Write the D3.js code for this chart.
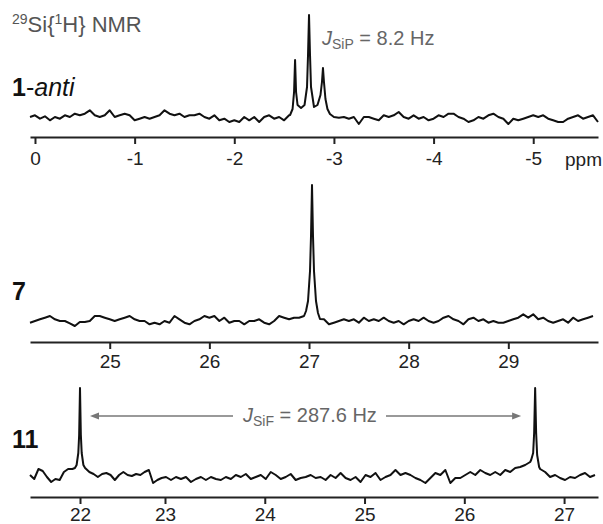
<!DOCTYPE html>
<html>
<head>
<meta charset="utf-8">
<script src="https://cdn.jsdelivr.net/npm/d3@7"></script>
<style>
  body { margin: 0; background: #fff; }
  text { font-family: "Liberation Sans", Arial, sans-serif; }
</style>
</head>
<body>
<script>
// ---- tick labels ----
var ticks1 = [0, -1, -2, -3, -4, -5];
var ticks2 = [25, 26, 27, 28, 29];
var ticks3 = [22, 23, 24, 25, 26, 27];

// ---- baseline noise, sampled every 0.05 ppm (null = covered by a peak) ----
var noise1Start = 0.05, noise1Step = -0.05;
var noise1 = [0, 1.7, -1.7, 0.7, -3.3, 0, -1.7, 1.7, 0, 3.3, 1.7, 3.3, 6.7, 1.7, 0, 1.7, 6.7, 0, 1.7, 3.3,
  1.7, -3.3, -1.7, 0, -1.7, 0, 1.7, 6.7, 3.3, 1.7, 3.3, 0, 1.7, 1.7, 3.3, 0, -1.7, 1.7, -3.3, -1.7,
  -5, -3.3, -5, 0, -3.3, 0, -5, 0, 1.7, -1.7, 0, -3.3, 1.7,
  null, null, null, null, null, null, null, null,
  0, -0.7, 0, -1.7, 0, -7, 0, 0, -1.7, -3.3, 1.7, 0, 1.7, 5, 0, -1.7, 1.7, -1.7, 0, -3.3,
  -1.7, 1.7, 0, 3.3, 3.3, 0, -1.7, -5, -3.3, 0, -1.7, 1.7, 3.3, 0, -1.7, -7, -1.7, -3.3, -1.7, 0,
  1.7, 0, 1.7, -1.7, -3.3, -5, -5, -1.7, 0, 1.7, -1.7, 0, 1.7, -5];

var noise2Start = 24.2, noise2Step = 0.05;
var noise2 = [-1.7, 0, 1.7, 3.3, 5, 1.7, 0, 0, -2.3, -5, -1, -1, 0, 5, 5, 3.3, 1.7, 0, 1.7, 3.3,
  5, 1.7, 0, 0, -3.3, -1.7, -3.3, 0, -1.7, 5, 1.7, -1.7, -3.3, 0, 1.7, 5, 3.3, 5, 0, 3.3,
  -1.7, 0, 0, -3.3, 0, 0, 1.7, -1.7, -3.3, 0, 5, 3.3, 1.7, 3.3,
  3.3, null, null, null, null, 1.7,
  -3.3, -1.7, 0, 1.7, 0, 1.7, -1.7, 3.3, 0, 1.7, 0, 3.3, 0, -1.7, 0, -3.3, 0, 1.7, 0, 3.3,
  0, -1.7, 0, 3.3, 5, 1.7, 0, -3.3, 1.7, 3.3, 0, 1.7, -1.7, 0, -1.7, -1.7, 0, 1.7, 3.3, 6.7,
  3.3, 6.7, 1.7, 3.3, 0, -1.7, 0, 1.7, -1.7, 3.3, 0, 1.7, 3.3, 5];

var noise3Start = 21.41, noise3Step = 0.05;
var noise3 = [2, -2, 8, 6, 0, -5, -2, -3, 5, 8, 8, null, null, null,
  5, 3, 0, 3, 4, 2, -3, 2, 5, 2, 1, 3, 2, 5, 7, -6, -3, -1,
  0, -3, 0, -2, 0, -5, -2, 0, -3, 0, -2, -3, 0, -2, 2, 0, 3, -2, 0, 2, -2, 5, 2, -2, 0, 3, -3, -1,
  0, 2, -1, 0, -3, 2, -1, 4, -1, -3, 0, -5, 2, 0, 4, -3, 0, 2, 7, 2, 4, 2, -1, -3, -6, -1, 4, 2, 7, -6,
  -1, -1, 2, 5, 2, 7, 4, 2, 5, 2, 7, 5, 9, 10, 12, 15, null, 8, 5, 0, 2, -1, -3, 0, -1, 2, 4, 0, 2];

// ---- peaks [ppm, intensity] ----
var peaks1 = [[-2.56, 2], [-2.585, 8], [-2.60, 25], [-2.61, 57], [-2.62, 25], [-2.635, 12], [-2.67, 9],
  [-2.705, 12], [-2.73, 30], [-2.74, 62], [-2.75, 102], [-2.76, 62], [-2.77, 30], [-2.80, 10],
  [-2.835, 12], [-2.865, 22], [-2.88, 35], [-2.89, 49], [-2.90, 35], [-2.915, 18], [-2.935, 8], [-2.96, 3]];
var peaks2 = [[26.95, 5], [26.97, 10], [26.99, 20], [27.01, 50], [27.02, 85], [27.03, 136],
  [27.04, 85], [27.05, 50], [27.07, 20], [27.09, 8], [27.11, 2]];
var peaks3a = [[21.94, 9], [21.96, 12], [21.98, 24], [21.99, 42], [22.0, 89], [22.01, 42],
  [22.02, 24], [22.04, 12], [22.06, 9]];
var peaks3b = [[26.67, 17], [26.69, 24], [26.70, 44], [26.71, 89], [26.72, 44], [26.73, 22], [26.75, 10]];

function buildSeries(noise, start, step, peaks) {
  var pts = [];
  noise.forEach(function (v, i) {
    if (v !== null) pts.push([start + i * step, v]);
  });
  peaks.forEach(function (pk) {
    var lo = d3.min(pk, function (d) { return d[0]; });
    var hi = d3.max(pk, function (d) { return d[0]; });
    pts = pts.filter(function (d) { return d[0] < lo - 1e-6 || d[0] > hi + 1e-6; });
    pts = pts.concat(pk);
  });
  return pts.sort(function (a, b) { return a[0] - b[0]; });
}

var W = 603, H = 524;
var svg = d3.select("body").append("svg").attr("width", W).attr("height", H);

var panels = [
  {
    x: d3.scaleLinear().domain([0.05, -5.65]).range([30, 598]),
    y: d3.scaleLinear().domain([0, 102]).range([117, 15]),
    axisY: 137, ticks: ticks1, pad: 8,
    data: buildSeries(noise1, noise1Start, noise1Step, [peaks1])
  },
  {
    x: d3.scaleLinear().domain([24.2, 29.9]).range([30, 598]),
    y: d3.scaleLinear().domain([0, 136]).range([321, 185]),
    axisY: 342, ticks: ticks2, pad: 6,
    data: buildSeries(noise2, noise2Start, noise2Step, [peaks2])
  },
  {
    // the printed 22 tick sits closer to 23 than the others, so piecewise
    x: d3.scaleLinear().domain([21.41, 22, 23, 27.34]).range([30, 80, 165, 598]),
    y: d3.scaleLinear().domain([0, 89]).range([477, 388]),
    axisY: 497, ticks: ticks3, pad: 4,
    data: buildSeries(noise3, noise3Start, noise3Step, [peaks3a, peaks3b])
  }
];

panels.forEach(function (p) {
  var ax = svg.append("g")
    .attr("transform", "translate(0," + p.axisY + ")")
    .call(d3.axisBottom(p.x)
      .tickValues(p.ticks)
      .tickSizeInner(7)
      .tickSizeOuter(0)
      .tickPadding(p.pad)
      .tickFormat(function (d) { return String(d); }));
  ax.attr("font-family", null).attr("font-size", null);
  ax.select(".domain").attr("stroke", "#222").attr("stroke-width", 2);
  ax.selectAll(".tick line").attr("stroke", "#222").attr("stroke-width", 2);
  ax.selectAll(".tick text").attr("fill", "#222").style("font-size", "19px");

  var line = d3.line()
    .x(function (d) { return p.x(d[0]); })
    .y(function (d) { return p.y(d[1]); });
  svg.append("path")
    .datum(p.data)
    .attr("fill", "none")
    .attr("stroke", "#111")
    .attr("stroke-width", 2)
    .attr("stroke-linejoin", "round")
    .attr("d", line);
});

// ppm unit
svg.append("text").attr("x", 565).attr("y", 166)
  .style("font-size", "19px").attr("fill", "#222").text("ppm");

// title
var title = svg.append("text").attr("x", 12).attr("y", 32)
  .style("font-size", "22px").attr("fill", "#555");
title.append("tspan").style("font-size", "14px").attr("dy", -8).text("29");
title.append("tspan").attr("dy", 8).text("Si{");
title.append("tspan").style("font-size", "14px").attr("dy", -8).text("1");
title.append("tspan").attr("dy", 8).text("H} NMR");

// compound labels
var lab1 = svg.append("text").attr("x", 12).attr("y", 96)
  .style("font-size", "25px").attr("fill", "#111");
lab1.append("tspan").attr("font-weight", "bold").text("1");
lab1.append("tspan").text("-");
lab1.append("tspan").attr("font-style", "italic").text("anti");

svg.append("text").attr("x", 12).attr("y", 300)
  .style("font-size", "25px").attr("font-weight", "bold").attr("fill", "#111").text("7");
svg.append("text").attr("x", 12).attr("y", 448)
  .style("font-size", "25px").attr("font-weight", "bold").attr("fill", "#111").text("11");

// coupling annotations
function coupling(x, y, sub, rest) {
  var t = svg.append("text").attr("x", x).attr("y", y)
    .style("font-size", "20px").attr("fill", "#666");
  t.append("tspan").attr("font-style", "italic").text("J");
  t.append("tspan").style("font-size", "14px").attr("dy", 4).text(sub);
  t.append("tspan").attr("dy", -4).text(rest);
  return t;
}
coupling(322, 45, "SiP", " = 8.2 Hz");
coupling(243, 422, "SiF", " = 287.6 Hz");

// arrows between the Si-F doublet
var p3 = panels[2];
var arrowY = 416;
var arrows = [
  { from: 233, to: p3.x(22) + 10 },
  { from: 386, to: p3.x(26.71) - 14 }
];
arrows.forEach(function (a) {
  var dir = a.to > a.from ? 1 : -1;
  svg.append("line")
    .attr("x1", a.from).attr("x2", a.to - dir * 6)
    .attr("y1", arrowY).attr("y2", arrowY)
    .attr("stroke", "#777").attr("stroke-width", 1.6);
  svg.append("path")
    .attr("d", "M" + a.to + "," + arrowY +
      "L" + (a.to - dir * 9) + "," + (arrowY - 3.5) +
      "L" + (a.to - dir * 9) + "," + (arrowY + 3.5) + "Z")
    .attr("fill", "#777");
});
</script>
</body>
</html>
